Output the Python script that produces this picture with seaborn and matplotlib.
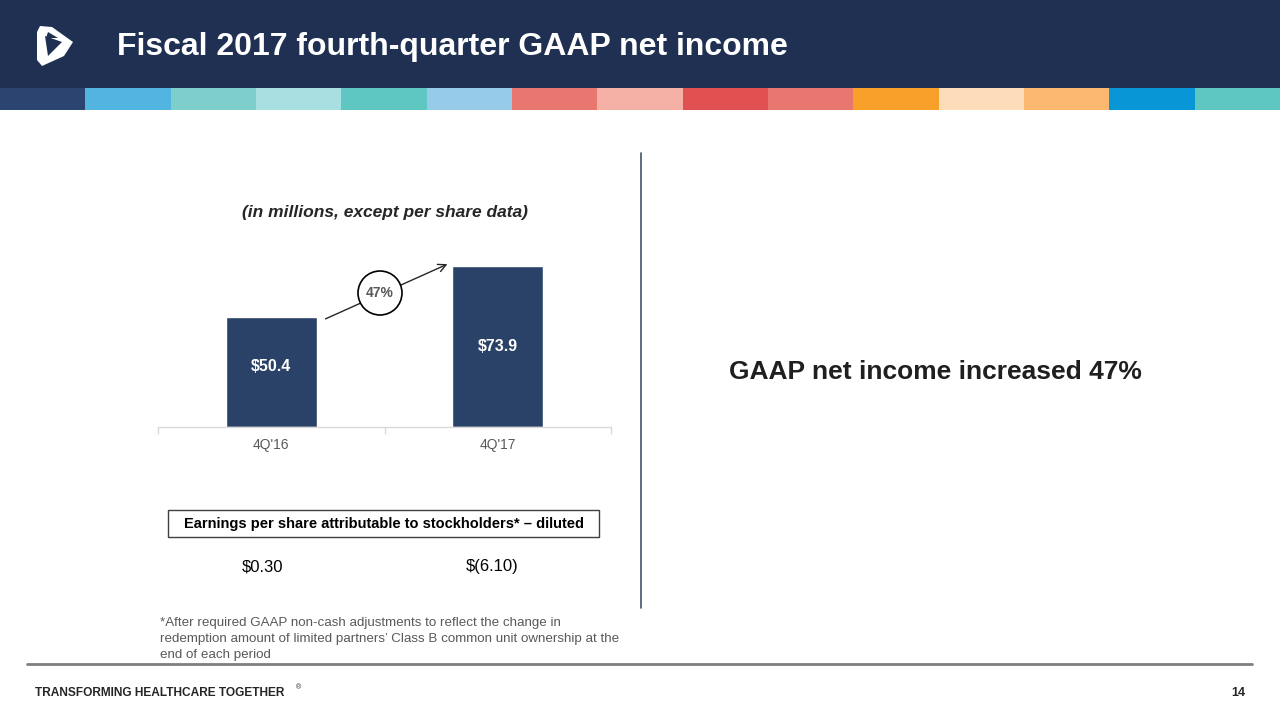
import matplotlib
matplotlib.use("Agg")
import matplotlib.pyplot as plt
import matplotlib.patches as mpatches
import seaborn as sns
import pandas as pd

# ---- data ----
categories = ["4Q'16", "4Q'17"]
net_income = [50.4, 73.9]
bar_labels = ["$50.4", "$73.9"]
eps_labels = ["$0.30", "$(6.10)"]
growth_label = "47%"
stripe_colors = ["#2B4570", "#52B4E0", "#7ECFCB", "#A8DFE0", "#5EC7C2", "#96CCEA",
                 "#E8786F", "#F5B0A6", "#E05050", "#E8786F", "#F9A02A", "#FDDCBA",
                 "#FDB870", "#0896D6", "#5EC7C2"]

title = "Fiscal 2017 fourth-quarter GAAP net income"
subtitle = "(in millions, except per share data)"
eps_title = "Earnings per share attributable to stockholders* \u2013 diluted"
footnote = ("*After required GAAP non-cash adjustments to reflect the change in\n"
            "redemption amount of limited partners\u2019 Class B common unit ownership at the\n"
            "end of each period")
headline = "GAAP net income increased 47%"
footer = "TRANSFORMING HEALTHCARE TOGETHER"
page = "14"

NAVY = "#1F3052"
BAR = "#2B4268"

sns.set_theme(style="white")
plt.rcParams['font.family'] = ['Liberation Sans', 'DejaVu Sans']

W, H = 1280, 720
fig = plt.figure(figsize=(12.8, 7.2), dpi=100)
fig.patch.set_facecolor("white")

# overlay axes in pixel coords
ov = fig.add_axes([0, 0, 1, 1], zorder=0)
ov.set_xlim(0, W)
ov.set_ylim(H, 0)
ov.axis("off")

# header
ov.add_patch(mpatches.Rectangle((0, 0), W, 88, color=NAVY, lw=0))
seg = W / len(stripe_colors)
for i, c in enumerate(stripe_colors):
    ov.add_patch(mpatches.Rectangle((i * seg, 88), seg + 0.5, 22, color=c, lw=0))

# logo (simple shield)
shield = mpatches.Polygon([(40, 26), (52, 27), (73, 42), (64, 56), (42, 66), (37, 60), (37, 32)],
                          closed=True, color="white", lw=0)
ov.add_patch(shield)
ov.add_patch(mpatches.Polygon([(45, 36), (62, 42), (48, 56)], closed=True, color=NAVY, lw=0))
ov.add_patch(mpatches.Polygon([(48, 32), (58, 38), (46, 38)], closed=True, color=NAVY, lw=0))

ov.text(117, 47, title, color="white", fontsize=23, fontweight="bold", va="center", ha="left")

# subtitle
ov.text(385, 213, subtitle, fontsize=12.5, fontweight="bold", fontstyle="italic",
        color="#262626", ha="center", va="center")

# arrow and circle
ov.annotate("", xy=(450, 263), xytext=(323, 320),
            arrowprops=dict(arrowstyle="->", color="#262626", lw=1, mutation_scale=14))
ov.add_patch(mpatches.Circle((380, 293), 22, facecolor="white", edgecolor="black", lw=1.2, zorder=5))
ov.text(380, 293, growth_label, fontsize=10, fontweight="bold", color="#595959",
        ha="center", va="center", zorder=6)

# EPS box
ov.add_patch(mpatches.Rectangle((168, 510), 431, 27, facecolor="white", edgecolor="#404040", lw=1))
ov.text(384.5, 524, eps_title, fontsize=10.5, fontweight="bold", color="black", ha="center", va="center")
for x, lab in zip([263, 492], eps_labels):
    ov.text(x, 567, lab, fontsize=12, color="black", ha="center", va="center")

ov.text(160, 639, footnote, fontsize=9.6, color="#595959", ha="left", va="center", linespacing=1.4)

# vertical divider
ov.plot([641, 641], [153, 608], color="#44546A", lw=1.2)

ov.text(935, 372, headline, fontsize=19, fontweight="bold", color="#1F1F1F", ha="center", va="center")

# bottom rule and footer
ov.plot([27, 1252], [664, 664], color="#7F7F7F", lw=2)
ov.text(35, 693, footer, fontsize=8.6, fontweight="bold", color="#262626", ha="left", va="center")
ov.text(296, 688, "\u00ae", fontsize=5, color="#262626", ha="left", va="center")
ov.text(1245, 693, page, fontsize=9, fontweight="bold", color="#262626", ha="right", va="center")

# bar chart
ax = fig.add_axes([158 / W, (H - 427) / H, 453 / W, 174 / H], zorder=1)
ax.patch.set_alpha(0)
df = pd.DataFrame({"period": categories, "value": net_income})
sns.barplot(data=df, x="period", y="value", color=BAR, width=0.4, saturation=1, ax=ax)
ax.set_xlim(-0.5, 1.5)
ax.set_ylim(0, 80)
ax.set_xlabel("")
ax.set_ylabel("")
ax.set_yticks([])
for s in ["top", "right", "left"]:
    ax.spines[s].set_visible(False)
ax.spines["bottom"].set_color("#D9D9D9")
ax.spines["bottom"].set_linewidth(1)
ax.set_xticks([-0.5, 0.5, 1.5], minor=True)
ax.tick_params(axis="x", which="minor", length=5, color="#D9D9D9", width=1, bottom=True)
ax.tick_params(axis="x", which="major", length=0, labelsize=10, labelcolor="#595959", pad=8)
for i, (v, lab) in enumerate(zip(net_income, bar_labels)):
    ax.text(i, v * 0.55 if i == 0 else v * 0.5, lab, color="white", fontsize=11.5,
            fontweight="bold", ha="center", va="center")

fig.savefig("out.png", dpi=100, facecolor="white")
